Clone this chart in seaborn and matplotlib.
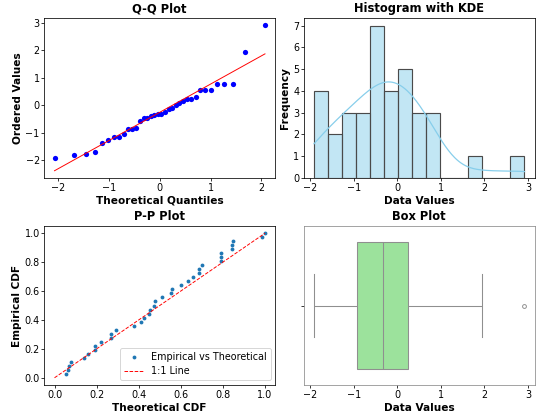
import numpy as np
import pandas as pd
import matplotlib
matplotlib.use("Agg")
import matplotlib.pyplot as plt
import seaborn as sns
from statistics import NormalDist

data_values = [-1.91, -1.82, -1.76, -1.70, -1.36, -1.28, -1.14, -1.14, -1.05,
               -0.88, -0.88, -0.82, -0.57, -0.48, -0.45, -0.39, -0.37, -0.33,
               -0.31, -0.23, -0.12, -0.11, 0.01, 0.09, 0.16, 0.24, 0.24, 0.29,
               0.57, 0.57, 0.57, 0.77, 0.77, 0.79, 1.94, 2.92]
n_bins = 15

titles = ["Q-Q Plot", "Histogram with KDE", "P-P Plot", "Box Plot"]

data = np.sort(np.array(data_values))
n = len(data)
nd = NormalDist()

# Q-Q (Filliben order statistic medians, like scipy.stats.probplot)
m = np.empty(n)
m[-1] = 0.5 ** (1.0 / n)
m[0] = 1 - m[-1]
i = np.arange(2, n)
m[1:-1] = (i - 0.3175) / (n + 0.365)
osm = np.array([nd.inv_cdf(p) for p in m])
slope, intercept = np.polyfit(osm, data, 1)

# P-P
mu, sd = data.mean(), data.std(ddof=1)
theo_cdf = np.array([NormalDist(mu, sd).cdf(v) for v in data])
emp_cdf = np.arange(1, n + 1) / n

plt.rcParams.update({
    "font.family": ["DejaVu Sans"],
    "font.size": 10,
    "xtick.labelsize": 10,
    "ytick.labelsize": 10,
    "xtick.major.pad": 1.5,
    "ytick.major.pad": 1.0,
    "axes.labelpad": 3.0,
})

DPI = 69
W, H = 542, 420
fig = plt.figure(figsize=(W / DPI, H / DPI), dpi=DPI)

def box(l, t, r, b):
    return [l / W, 1 - b / H, (r - l) / W, (b - t) / H]

ax1 = fig.add_axes(box(44, 18, 275.5, 178))
ax2 = fig.add_axes(box(303.5, 18, 535, 178))
ax3 = fig.add_axes(box(44, 226, 275.5, 385))
ax4 = fig.add_axes(box(303.5, 226, 535, 385))

tkw = dict(fontsize=12, fontweight="bold")
lkw = dict(fontsize=11, fontweight="bold")

# Q-Q
qq = pd.DataFrame({"theo": osm, "obs": data})
sns.scatterplot(data=qq, x="theo", y="obs", color="blue", s=30, linewidth=0, ax=ax1)
qq["fit"] = intercept + slope * qq["theo"]
sns.lineplot(data=qq, x="theo", y="fit", color="red", linewidth=1.0, ax=ax1)
ax1.set_title(titles[0], **tkw)
ax1.set_xlabel("Theoretical Quantiles", **lkw)
ax1.set_ylabel("Ordered Values", **lkw)

# Histogram with KDE
sns.histplot(x=data, bins=n_bins, kde=True, color="skyblue",
             ax=ax2, line_kws={"linewidth": 1.3})
for p in ax2.patches:
    p.set_alpha(None)
    p.set_facecolor((135 / 255, 206 / 255, 235 / 255, 0.5))
    p.set_edgecolor("#4a4a4a")
    p.set_linewidth(1.2)
ax2.set_title(titles[1], **tkw)
ax2.set_xlabel("Data Values", **lkw)
ax2.set_ylabel("Frequency", **lkw)

# P-P
sns.scatterplot(x=theo_cdf, y=emp_cdf, color="#1f77b4", s=16, linewidth=0,
                label="Empirical vs Theoretical", ax=ax3)
sns.lineplot(x=[0, 1], y=[0, 1], color="red", linestyle="--", linewidth=1.0,
             label="1:1 Line", ax=ax3)
ax3.set_title(titles[2], **tkw)
ax3.set_xlabel("Theoretical CDF", **lkw)
ax3.set_ylabel("Empirical CDF", **lkw)
ax3.legend(loc="lower right", fontsize=10, frameon=True)

# Box plot
sns.boxplot(x=data, color="lightgreen", linecolor="#8f8f8f", linewidth=1.1,
            ax=ax4, flierprops={"markersize": 4})
for s in ax4.spines.values():
    s.set_edgecolor("#8a8a8a")
ax4.set_title(titles[3], **tkw)
ax4.set_xlabel("Data Values", **lkw)

fig.savefig("out.png", dpi=DPI)
